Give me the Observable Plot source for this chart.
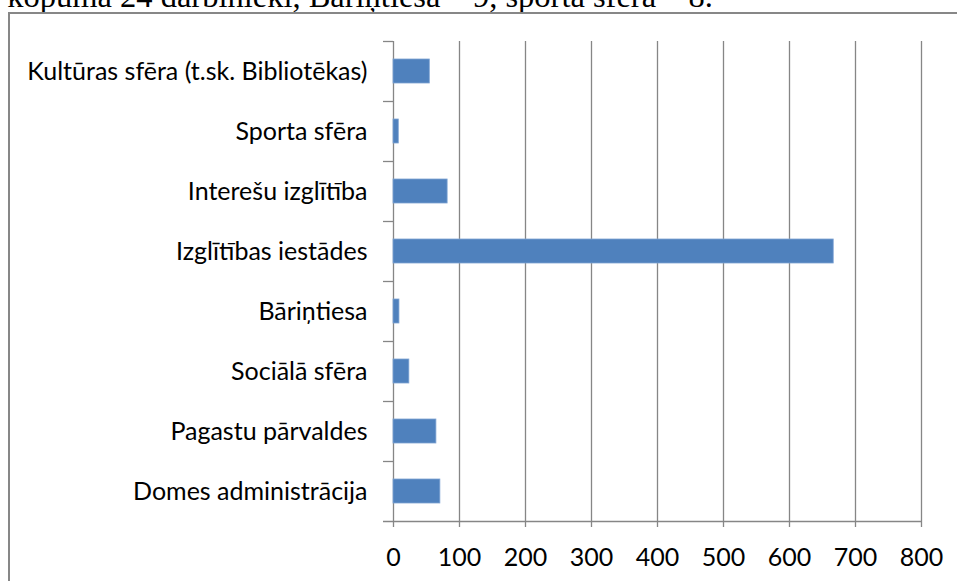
<!DOCTYPE html>
<html>
<head>
<meta charset="utf-8">
<script src="https://cdn.jsdelivr.net/npm/d3@7"></script>
<script src="https://cdn.jsdelivr.net/npm/@observablehq/plot@0.6"></script>
<style>
  html, body { margin: 0; padding: 0; background: #fff; overflow: hidden; }
  #wrap { position: relative; width: 957px; height: 581px; overflow: hidden; }
  #topline { position: absolute; right: 244px; top: -20px; white-space: nowrap;
    font-family: "Liberation Serif", "Times New Roman", serif; font-size: 32.5px; line-height: 32.5px; color: #000; }
  #box { position: absolute; left: 8px; top: 12px; width: 1000px; height: 700px;
    border-left: 2px solid #878787; border-top: 2px solid #878787; }
  #chart { position: absolute; left: 0; top: 0; }
</style>
</head>
<body>
<div id="wrap">
  <div id="topline">ir kopumā 24 darbinieki, Bāriņtiesa – 9, sporta sfēra – 8.</div>
  <div id="box"></div>
  <div id="chart"></div>
</div>
<script>
const categories = [
  "Kultūras sfēra (t.sk. Bibliotēkas)",
  "Sporta sfēra",
  "Interešu izglītība",
  "Izglītības iestādes",
  "Bāriņtiesa",
  "Sociālā sfēra",
  "Pagastu pārvaldes",
  "Domes administrācija"
];
const values = [55, 8, 82, 667, 9, 24, 65, 71];
const xTicks = [0, 100, 200, 300, 400, 500, 600, 700, 800];

const data = categories.map((c, i) => ({category: c, value: values[i]}));
const gray = "#868686";

const chart = Plot.plot({
  width: 957,
  height: 581,
  marginLeft: 393,
  marginRight: 36,
  marginTop: 41,
  marginBottom: 60,
  style: {fontFamily: "Lato, sans-serif", fontSize: "25px", color: "#000", background: "transparent"},
  x: {domain: [0, 800], ticks: xTicks, tickSize: 0, tickPadding: 27, label: null, tickFormat: d => String(d)},
  y: {domain: categories, paddingInner: 0.6, paddingOuter: 0.3, tickSize: 0, tickPadding: 26, label: null},
  marks: [
    Plot.ruleX(xTicks, {stroke: gray, strokeWidth: 1.3, insetBottom: -6}),
    Plot.ruleY(categories, {y: d => d, x1: 0, x2: 0, dy: -30, insetLeft: -10, stroke: gray, strokeWidth: 1.3}),
    Plot.ruleY(categories.slice(-1), {y: d => d, x1: 0, x2: 800, dy: 30, insetLeft: -10, stroke: gray, strokeWidth: 1.3}),
    Plot.barX(data, {x: "value", y: "category", fill: "#4F81BD", stroke: "#7EA3D3", strokeWidth: 0.8})
  ]
});
document.getElementById("chart").appendChild(chart);
</script>
</body>
</html>
